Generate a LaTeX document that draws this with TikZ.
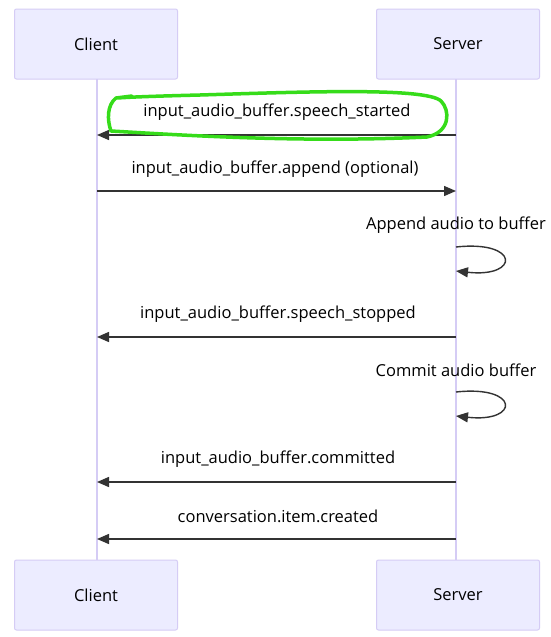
\documentclass[tikz,border=0pt]{standalone}
\usepackage{fontspec}
\setmainfont{Open Sans}
\usetikzlibrary{arrows.meta}
\definecolor{boxfill}{HTML}{ECECFF}
\definecolor{boxdraw}{HTML}{D5CCF5}
\definecolor{life}{HTML}{D5CCF5}
\definecolor{ink}{HTML}{333333}
\definecolor{hl}{HTML}{36DC1A}
\tikzset{
  actor/.style={draw=boxdraw, fill=boxfill, line width=1pt, rounded corners=2pt,
    minimum width=163pt, minimum height=70pt, inner sep=0pt, font=\fontsize{16.5}{19}\selectfont, text=black},
  msg/.style={draw=ink, line width=1.4pt, -{Triangle[length=12pt,width=10pt]}},
  lbl/.style={font=\fontsize{16.5}{19}\selectfont, text=black, inner sep=0pt},
  lifeline/.style={draw=life, line width=1.3pt}
}
\begin{document}
\begin{tikzpicture}[x=1pt,y=-1pt]
\useasboundingbox (0,0) rectangle (551,637);
\fill[white] (0,0) rectangle (551,637);
% actors
\node[actor] (ct) at (96,44) {Client};
\node[actor] (st) at (458,44) {Server};
\node[actor] (cb) at (96,595) {Client};
\node[actor] (sb) at (458,595) {Server};
\draw[lifeline] (97,79) -- (97,560);
\draw[lifeline] (456,79) -- (456,560);
% anchors
\coordinate (s1) at (456,135); \coordinate (c1) at (97,135);
\coordinate (c2) at (97,191); \coordinate (s2) at (456,191);
\coordinate (l1a) at (456,247); \coordinate (l1b) at (456,271);
\coordinate (s4) at (456,337); \coordinate (c4) at (97,337);
\coordinate (l2a) at (456,392); \coordinate (l2b) at (456,416);
\coordinate (s6) at (456,482); \coordinate (c6) at (97,482);
\coordinate (s7) at (456,539); \coordinate (c7) at (97,539);
% messages
\draw[msg] (s1) -- (c1);
\node[lbl] (t1) at (277,112) {input\_audio\_buffer.speech\_started};
\draw[msg] (c2) -- (s2);
\node[lbl] (t2) at (275,169) {input\_audio\_buffer.append (optional)};
\draw[msg] (l1a) .. controls (520,240) and (520,278) .. (l1b);
\node[lbl] (t3) at (456,225) {Append audio to buffer};
\draw[msg] (s4) -- (c4);
\node[lbl] (t4) at (278,314) {input\_audio\_buffer.speech\_stopped};
\draw[msg] (l2a) .. controls (520,385) and (520,423) .. (l2b);
\node[lbl] (t5) at (456,370) {Commit audio buffer};
\draw[msg] (s6) -- (c6);
\node[lbl] (t6) at (278,459) {input\_audio\_buffer.committed};
\draw[msg] (s7) -- (c7);
\node[lbl] (t7) at (278,516) {conversation.item.created};
% green highlight scribble
\draw[hl, line width=3.5pt, line cap=round, line join=round]
  (132,96) -- (116,98)
  .. controls (107,105) and (107,120) .. (111,131)
  .. controls (180,135) and (300,143) .. (427,137)
  .. controls (451,132) and (450,110) .. (441,101)
  .. controls (426,87) and (300,92) .. (200,95)
  .. controls (160,96) and (130,97) .. (118,98);
\end{tikzpicture}
\end{document}
